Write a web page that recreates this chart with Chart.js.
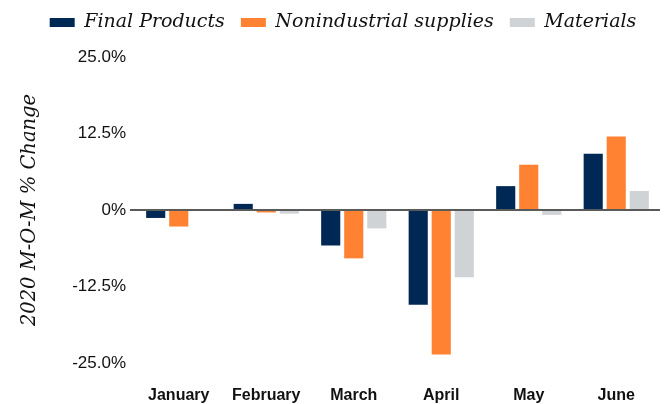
<!DOCTYPE html>
<html>
<head>
<meta charset="utf-8">
<script src="https://cdn.jsdelivr.net/npm/chart.js@4.4.0/dist/chart.umd.min.js"></script>
<style>
  html, body { margin: 0; padding: 0; background: #fff; }
  #wrap { width: 668px; height: 404px; }
</style>
</head>
<body>
<div id="wrap"><canvas id="myBarChart"></canvas></div>
<script>
// months on the x axis
var months = ['January', 'February', 'March', 'April', 'May', 'June'];

// month-over-month % change, 2020
var finalProducts = [-1.3, 1.0, -5.8, -15.5, 3.9, 9.2];
var nonindustrial = [-2.7, -0.4, -7.9, -23.6, 7.4, 12.0];
var materials = [0, -0.6, -3.0, -11.0, -0.8, 3.1];

var yTicks = [-25, -12.5, 0, 12.5, 25];

// extra room under the legend, and nudge it a bit to the right
var legendSpacing = {
    id: 'legendSpacing',
    beforeInit: function (chart) {
        var fit = chart.legend.fit;
        chart.legend.fit = function () {
            fit.bind(chart.legend)();
            this.height += 15;
        };
    },
    afterLayout: function (chart) {
        chart.legend.left += 9;
        chart.legend.right += 9;
    }
};

var ctx_bar = document.getElementById('myBarChart');

var MyBarChart = new Chart(ctx_bar, {
    type: 'bar',
    data: {
        labels: months,
        datasets: [{
            label: 'Final Products',
            backgroundColor: '#002855',
            data: finalProducts
        }, {
            label: 'Nonindustrial supplies',
            backgroundColor: '#ff8232',
            data: nonindustrial
        }, {
            label: 'Materials',
            backgroundColor: '#d0d3d6',
            data: materials
        }]
    },
    plugins: [legendSpacing],
    options: {
        responsive: true,
        maintainAspectRatio: false,
        animation: false,
        layout: { padding: { left: 8, right: 8, top: -3, bottom: 0 } },
        datasets: {
            bar: { categoryPercentage: 0.79, barPercentage: 0.83, borderWidth: 0 }
        },
        plugins: {
            tooltip: { enabled: false },
            legend: {
                position: 'top',
                labels: {
                    boxWidth: 25,
                    boxHeight: 9,
                    padding: 16,
                    color: '#111',
                    font: { family: 'DejaVu Serif', style: 'italic', size: 19 }
                }
            }
        },
        scales: {
            x: {
                grid: { display: false },
                border: { display: false },
                afterFit: function (scale) {
                    scale.height = 41;
                },
                ticks: {
                    color: '#111',
                    font: { family: 'Liberation Sans', weight: 'bold', size: 16 },
                    padding: 15
                }
            },
            y: {
                min: -25,
                max: 25,
                afterBuildTicks: function (axis) {
                    axis.ticks = yTicks.map(function (v) { return { value: v }; });
                },
                afterFit: function (scale) {
                    scale.width = 127;
                },
                border: { display: false },
                grid: {
                    color: function (c) {
                        return c.tick && c.tick.value === 0 ? '#5a5a5a' : 'rgba(0,0,0,0)';
                    },
                    lineWidth: 2,
                    tickLength: 5
                },
                ticks: {
                    color: '#111',
                    padding: 4,
                    font: { family: 'Liberation Sans', size: 17 },
                    callback: function (v) {
                        return v === 0 ? '0%' : v.toFixed(1) + '%';
                    }
                },
                title: {
                    display: true,
                    text: '2020 M-O-M % Change',
                    color: '#111',
                    font: { family: 'DejaVu Serif', style: 'italic', size: 19.5 },
                    padding: { top: 10, bottom: 31 }
                }
            }
        }
    }
});
</script>
</body>
</html>
